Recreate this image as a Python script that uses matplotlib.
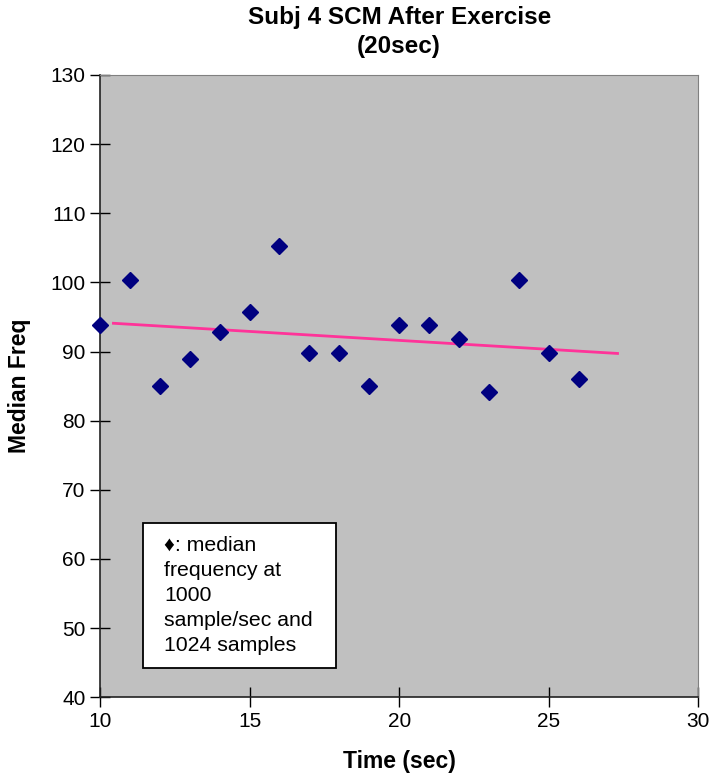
import numpy as np
import matplotlib.pyplot as plt
from matplotlib.patches import Rectangle

# données
time_s = [10, 11, 12, 13, 14, 15, 16, 17, 18, 19, 20, 21, 22, 23, 24, 25, 26]
median_freq = [93.8, 100.4, 85.0, 88.9, 92.8, 95.7, 105.3, 89.8, 89.8, 85.0,
               93.8, 93.8, 91.8, 84.1, 100.4, 89.8, 86.0]
trend_span = [10.45, 27.3]
x_ticks = [10, 15, 20, 25, 30]
y_ticks = [40, 50, 60, 70, 80, 90, 100, 110, 120, 130]
note = "\u2666: median\nfrequency at\n1000\nsample/sec and\n1024 samples"

plt.rcParams['font.family'] = ['Liberation Sans', 'DejaVu Sans']

fig = plt.figure(figsize=(7.14, 7.8), dpi=100)
ax = fig.add_axes([0.140, 0.106, 0.838, 0.798])
ax.set_facecolor('#C0C0C0')

ax.plot(time_s, median_freq, linestyle='none', marker='D', markersize=8,
        color='#000080', clip_on=False, zorder=3)

# tendance linéaire
slope, intercept = np.polyfit(time_s, median_freq, 1)
tx = np.array(trend_span)
ax.plot(tx, slope * tx + intercept, color='#FF3399', linewidth=2)

ax.set_xlim(10, 30)
ax.set_ylim(40, 130)
ax.set_xticks(x_ticks)
ax.set_yticks(y_ticks)
ax.tick_params(direction='inout', length=15, width=1, labelsize=15, pad=3)

for side in ['top', 'right']:
    ax.spines[side].set_color('#808080')
for side in ['left', 'bottom']:
    ax.spines[side].set_color('#222222')
    ax.spines[side].set_linewidth(1.2)

ax.set_title("Subj 4 SCM After Exercise\n(20sec)", fontsize=17.5,
             fontweight='bold', pad=16, linespacing=1.3)
ax.set_xlabel("Time (sec)", fontsize=16.5, fontweight='bold', labelpad=14)
ax.set_ylabel("Median Freq", fontsize=16.5, fontweight='bold', labelpad=14)

# boîte de légende
ax.add_patch(Rectangle((11.44, 44.3), 6.46, 20.9, facecolor='white',
                       edgecolor='black', linewidth=1.3, zorder=4))
ax.text(12.15, 63.3, note, fontsize=15.3, va='top', ha='left', linespacing=1.39,
        zorder=5)

fig.savefig('out.png', dpi=100)
